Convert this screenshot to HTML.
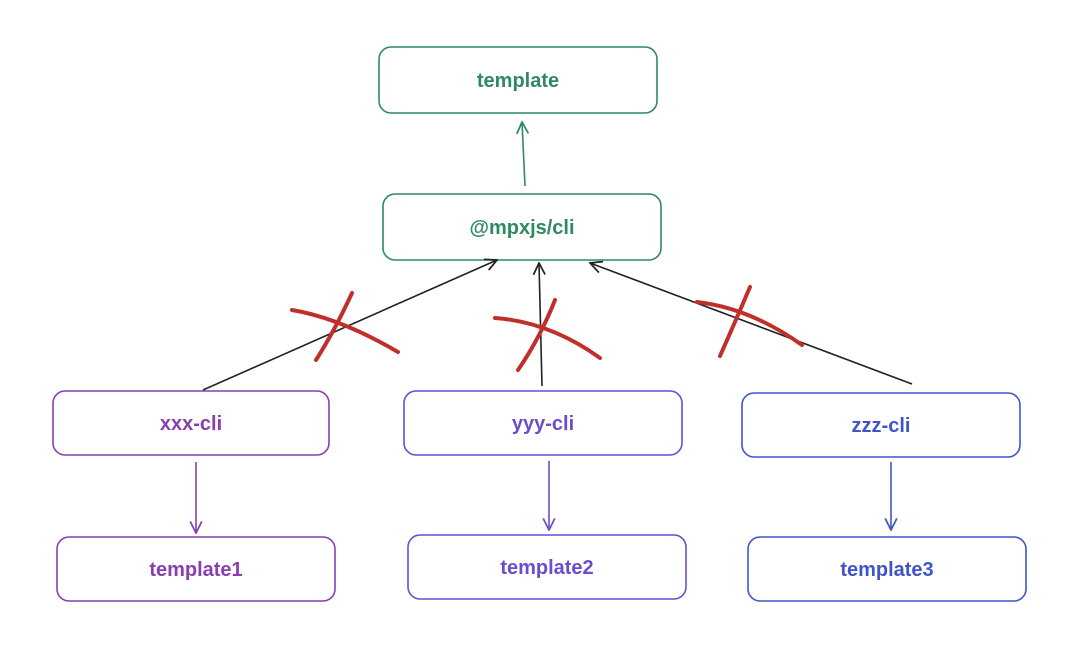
<!DOCTYPE html>
<html><head><meta charset="utf-8"><style>html,body{margin:0;padding:0;background:#fff;width:1080px;height:647px;overflow:hidden}</style></head>
<body>
<svg width="1080" height="647" viewBox="0 0 1080 647" xmlns="http://www.w3.org/2000/svg" font-family="'Comic Sans MS','Liberation Sans',sans-serif" font-size="20" text-anchor="middle">
<defs>
<marker id="a" viewBox="0 0 12 12" refX="11" refY="6" markerWidth="14" markerHeight="14" orient="auto" markerUnits="userSpaceOnUse"><path d="M1 1 L11 6 L1 11" fill="none" stroke="context-stroke" stroke-width="1.5"/></marker>
</defs>
<g fill="none" stroke-width="1.6">
<rect x="379" y="47" width="278" height="66" rx="12" stroke="#2f8a62"/>
<rect x="383" y="194" width="278" height="66" rx="12" stroke="#2f8a62"/>
<rect x="53" y="391" width="276" height="64" rx="12" stroke="#8a3fb0"/>
<rect x="404" y="391" width="278" height="64" rx="12" stroke="#6a4ccf"/>
<rect x="742" y="393" width="278" height="64" rx="12" stroke="#3f55c8"/>
<rect x="57" y="537" width="278" height="64" rx="12" stroke="#8a3fb0"/>
<rect x="408" y="535" width="278" height="64" rx="12" stroke="#6a4ccf"/>
<rect x="748" y="537" width="278" height="64" rx="12" stroke="#3f55c8"/>
<line x1="525" y1="186" x2="522" y2="122" stroke="#2f8a62" marker-end="url(#a)"/>
<line x1="203" y1="390" x2="497" y2="260" stroke="#222" marker-end="url(#a)"/>
<line x1="542" y1="386" x2="539" y2="263" stroke="#222" marker-end="url(#a)"/>
<line x1="912" y1="384" x2="590" y2="263" stroke="#222" marker-end="url(#a)"/>
<line x1="196" y1="462" x2="196" y2="533" stroke="#8a3fb0" marker-end="url(#a)"/>
<line x1="549" y1="461" x2="549" y2="530" stroke="#6a4ccf" marker-end="url(#a)"/>
<line x1="891" y1="462" x2="891" y2="530" stroke="#3f55c8" marker-end="url(#a)"/>
</g>
<g fill="none" stroke="#c0302b" stroke-width="4" stroke-linecap="round">
<path d="M292 310 Q340 318 398 352"/><path d="M352 293 Q335 330 316 360"/>
<path d="M495 318 Q550 322 600 358"/><path d="M555 300 Q540 338 518 370"/>
<path d="M697 302 Q750 308 802 345"/><path d="M750 287 Q736 320 720 356"/>
</g>
<g font-weight="bold">
<text x="518" y="87" fill="#2f8a62">template</text>
<text x="522" y="234" fill="#2f8a62">@mpxjs/cli</text>
<text x="191" y="430" fill="#8a3fb0">xxx-cli</text>
<text x="543" y="430" fill="#6a4ccf">yyy-cli</text>
<text x="881" y="432" fill="#3f55c8">zzz-cli</text>
<text x="196" y="576" fill="#8a3fb0">template1</text>
<text x="547" y="574" fill="#6a4ccf">template2</text>
<text x="887" y="576" fill="#3f55c8">template3</text>
</g>
</svg>
</body></html>
